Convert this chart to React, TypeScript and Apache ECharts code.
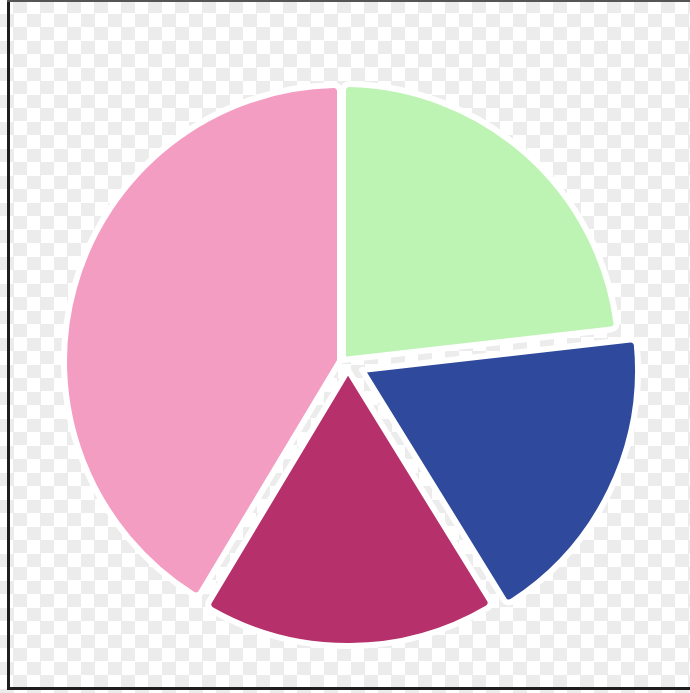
import React, { useEffect, useRef } from "react";
import * as echarts from "echarts";

// Slices listed clockwise from 12 o'clock
const categories = ["Green", "Blue", "Magenta", "Pink"];
const values = [23.2, 18.0, 17.4, 41.4];
const colors = ["#bdf4b4", "#2f4a9d", "#b6306b", "#f49dc3"];

export default function App() {
  const ref = useRef<HTMLDivElement>(null);

  useEffect(() => {
    if (!ref.current) return;
    const chart = echarts.init(ref.current, undefined, { renderer: "svg" });
    // each slice is drawn by its own pie, slightly displaced (exploded look)
    const centers = [
      [343, 360],
      [362, 370],
      [348, 370],
      [340, 361],
    ];
    const series = categories.map((_, i) => ({
      type: "pie",
      center: centers[i],
      radius: 276,
      startAngle: 90,
      clockwise: true,
      silent: true,
      label: { show: false },
      labelLine: { show: false },
      emphasis: { disabled: true },
      data: categories.map((c, j) => ({
        name: c,
        value: values[j],
        itemStyle:
          j === i
            ? { color: colors[j], borderColor: "#ffffff", borderWidth: 6, borderRadius: 6 }
            : { color: "rgba(0,0,0,0)", borderWidth: 0 },
      })),
    }));
    chart.setOption({
      animation: false,
      backgroundColor: "transparent",
      tooltip: { show: false },
      legend: { show: false },
      graphic: [
        { type: "line", shape: { x1: 8.5, y1: 0, x2: 8.5, y2: 690 }, style: { stroke: "#1e1e1e", lineWidth: 3 } },
        { type: "line", shape: { x1: 7, y1: 1, x2: 690, y2: 1 }, style: { stroke: "#555555", lineWidth: 2 } },
        { type: "line", shape: { x1: 7, y1: 688.5, x2: 690, y2: 688.5 }, style: { stroke: "#1e1e1e", lineWidth: 3 } },
      ],
      series,
    });
    return () => chart.dispose();
  }, []);

  return (
    <div
      ref={ref}
      style={{
        position: "absolute",
        left: 0,
        top: 0,
        width: 690,
        height: 693,
        backgroundColor: "#ffffff",
        backgroundImage: "repeating-conic-gradient(#ececec 0% 25%, #ffffff 0% 50%)",
        backgroundSize: "27px 27px",
      }}
    />
  );
}
